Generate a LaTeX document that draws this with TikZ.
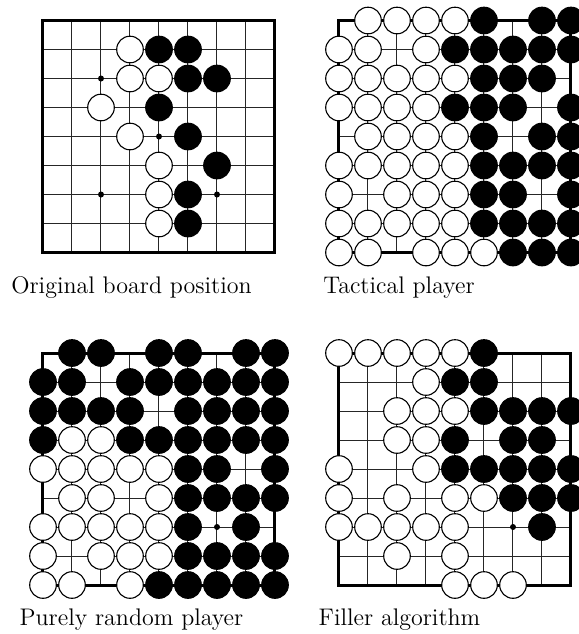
\documentclass[tikz,border=0pt]{standalone}
\usepackage{fontspec}
\setmainfont{Latin Modern Roman}
\tikzset{
  gridline/.style={line width=0.5pt, draw=black!85},
  boardedge/.style={line width=1.5pt, draw=black},
  whitestone/.style={draw=black, fill=white, line width=0.55pt},
  blackstone/.style={draw=black, fill=black, line width=0.55pt},
  caption/.style={anchor=base, inner sep=0pt, font=\fontsize{12}{14}\selectfont}
}
\newcommand\goboard[3]{%
  \begin{scope}[shift={(#1,#2)}]
    \foreach \k in {1,...,7} {
      \draw[gridline] (\k*29,0) -- (\k*29,232);
      \draw[gridline] (0,\k*29) -- (232,\k*29);
    }
    \draw[boardedge] (0,0) rectangle (232,232);
    \foreach \hx/\hy in {2/2,6/2,4/4,2/6,6/6}
      \fill (\hx*29,\hy*29) circle[radius=1.5pt];
    \foreach \rowlist [count=\r from 0] in {#3} {
      \foreach \s [count=\c from 0] in \rowlist {
        \if\s W\draw[whitestone] (\c*29,\r*29) circle[radius=6.65pt];\fi
        \if\s B\draw[blackstone] (\c*29,\r*29) circle[radius=6.65pt];\fi
      }
    }
  \end{scope}}
\begin{document}
\begin{tikzpicture}[x=0.5pt,y=-0.5pt]
\useasboundingbox (0,0) rectangle (579,634);
% Original board position
\goboard{43}{20.5}{
 {.,.,.,.,.,.,.,.,.},
 {.,.,.,W,B,B,.,.,.},
 {.,.,.,W,W,B,B,.,.},
 {.,.,W,.,B,.,.,.,.},
 {.,.,.,W,.,B,.,.,.},
 {.,.,.,.,W,.,B,.,.},
 {.,.,.,.,W,B,.,.,.},
 {.,.,.,.,W,B,.,.,.},
 {.,.,.,.,.,.,.,.,.}}
% Tactical player
\goboard{339}{20.5}{
 {.,W,W,W,W,B,.,B,B},
 {W,W,.,W,B,B,B,B,B},
 {W,W,W,W,W,B,B,B,.},
 {W,W,W,W,B,B,B,.,B},
 {.,W,W,W,W,B,.,B,B},
 {W,W,W,W,W,B,B,B,B},
 {W,.,W,W,W,B,B,.,B},
 {W,W,W,W,W,B,B,B,B},
 {W,W,.,W,W,W,B,B,B}}
% Purely random player
\goboard{43}{353}{
 {.,B,B,.,B,B,.,B,B},
 {B,B,.,B,B,B,B,B,B},
 {B,B,B,B,.,B,B,B,B},
 {B,W,W,B,B,B,B,B,B},
 {W,W,W,W,W,B,B,.,B},
 {.,W,W,.,W,B,B,B,B},
 {W,W,W,W,W,B,.,B,.},
 {W,.,W,W,W,B,B,B,B},
 {W,W,.,W,B,B,B,B,B}}
% Filler algorithm
\goboard{339}{353}{
 {W,W,W,W,W,B,.,.,.},
 {.,.,.,W,B,B,.,.,.},
 {.,.,W,W,W,B,B,B,B},
 {.,.,W,W,B,.,B,B,.},
 {W,.,.,W,B,B,B,B,B},
 {W,.,W,.,W,W,B,B,B},
 {W,W,W,W,W,.,.,B,.},
 {.,.,W,.,W,.,.,.,.},
 {.,.,.,.,W,W,W,.,.}}
\node[caption] (cap1) at (131.5,293) {Original board position};
\node[caption] (cap2) at (399,293) {Tactical player};
\node[caption] (cap3) at (131.5,625) {Purely random player};
\node[caption] (cap4) at (399.5,625) {Filler algorithm};
\end{tikzpicture}
\end{document}
